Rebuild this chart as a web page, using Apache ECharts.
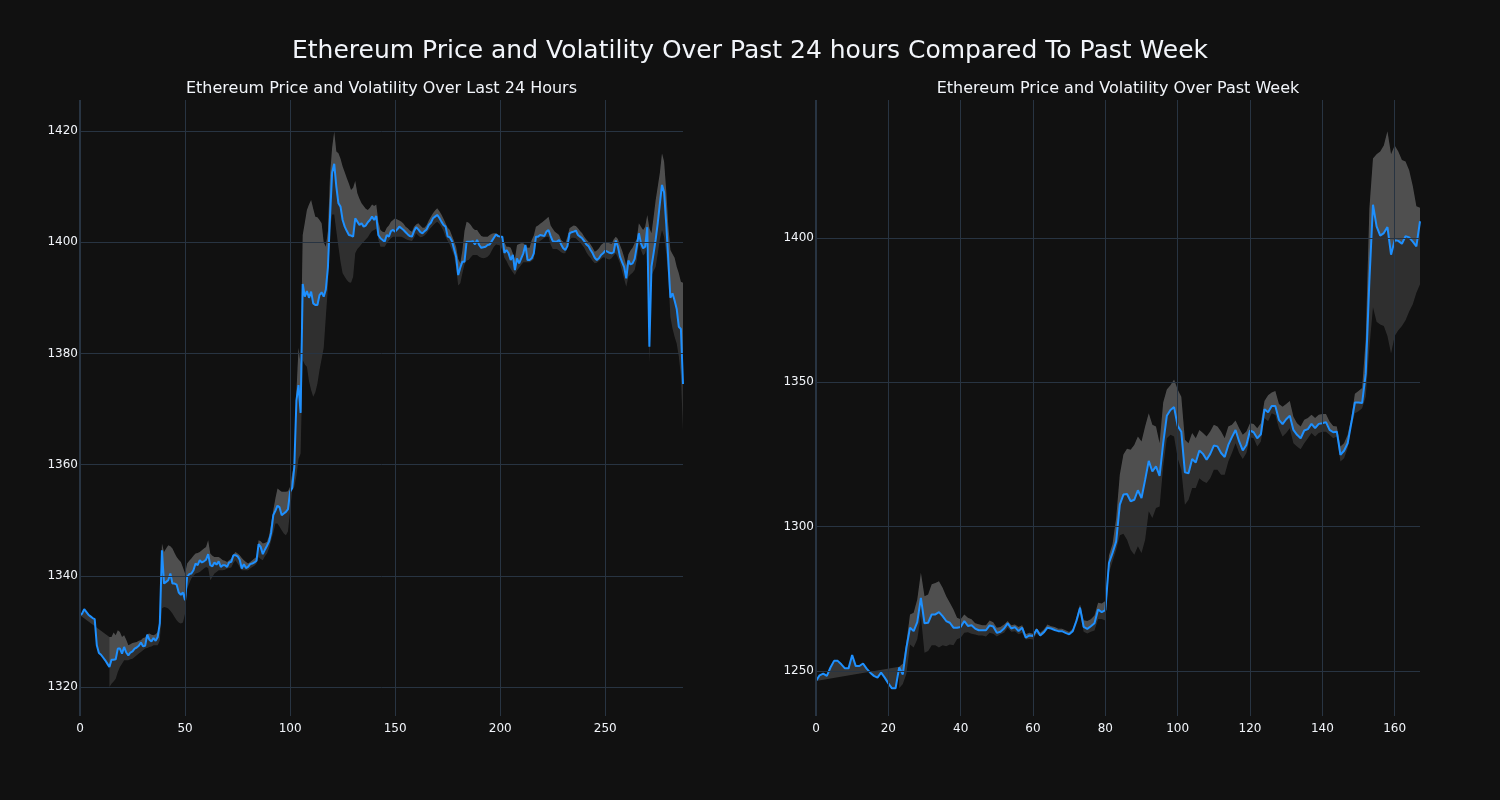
<!DOCTYPE html>
<html>
<head>
<meta charset="utf-8">
<script src="https://cdn.jsdelivr.net/npm/echarts@6/dist/echarts.min.js"></script>
<style>
html,body{margin:0;padding:0;background:#111111;}
#chart{width:1500px;height:800px;}
</style>
</head>
<body>
<div id="chart"></div>
<script>
// ---------------- DATA ----------------
const mainTitle = 'Ethereum Price and Volatility Over Past 24 hours Compared To Past Week';
const leftTitle = 'Ethereum Price and Volatility Over Last 24 Hours';
const rightTitle = 'Ethereum Price and Volatility Over Past Week';

// Last 24 hours (5-minute steps, index 0..287)
const dayPrice = [
1332.9,1333.2,1334.0,1333.5,1333.0,1332.7,1332.4,1332.2,1327.5,1326.1,
1325.8,1325.3,1324.8,1324.2,1323.6,1324.9,1324.9,1325.0,1326.9,1326.9,
1326.0,1327.2,1326.2,1325.7,1326.2,1326.4,1326.9,1327.1,1327.4,1328.0,
1327.3,1327.4,1329.4,1328.5,1328.2,1328.8,1328.3,1329.0,1331.5,1344.6,
1338.6,1338.9,1339.2,1340.4,1338.6,1338.6,1338.4,1337.0,1336.6,1337.0,
1335.6,1339.8,1340.3,1340.4,1341.0,1342.2,1341.9,1342.8,1342.4,1342.6,
1342.9,1343.9,1341.9,1341.7,1342.4,1342.0,1342.6,1341.6,1341.9,1341.9,
1341.6,1342.4,1342.5,1343.7,1343.7,1343.5,1342.9,1341.3,1342.1,1341.4,
1341.6,1342.1,1342.2,1342.4,1342.7,1345.7,1345.2,1343.9,1344.7,1345.4,
1346.2,1347.8,1350.9,1351.7,1352.6,1352.3,1350.9,1351.2,1351.5,1352.0,
1355.1,1355.8,1359.6,1371.5,1374.3,1369.3,1392.5,1390.2,1391.2,1390.0,
1391.1,1389.0,1388.7,1388.7,1390.5,1391.0,1390.2,1391.5,1395.5,1404.6,
1412.5,1414.1,1410.0,1407.0,1406.4,1404.0,1402.8,1402.0,1401.3,1401.2,
1401.0,1404.3,1403.7,1403.1,1403.4,1402.8,1403.0,1403.6,1404.0,1404.6,
1404.0,1404.7,1401.3,1400.7,1400.4,1400.1,1401.3,1401.0,1402.0,1402.2,
1401.9,1402.3,1402.8,1402.5,1402.2,1401.8,1401.4,1401.1,1401.0,1402.0,
1402.7,1402.3,1401.8,1401.6,1402.0,1402.3,1403.1,1403.5,1404.3,1404.6,
1404.9,1404.4,1403.7,1403.1,1402.8,1401.0,1400.9,1400.2,1398.8,1397.4,
1394.1,1395.4,1396.5,1396.5,1400.1,1400.1,1400.1,1400.2,1399.6,1400.4,
1399.5,1399.0,1399.1,1399.2,1399.5,1399.6,1400.2,1400.8,1401.4,1401.1,
1401.0,1401.0,1398.1,1398.6,1398.0,1396.8,1397.7,1395.0,1397.1,1396.2,
1397.1,1398.0,1399.5,1396.8,1396.8,1397.1,1398.0,1401.0,1401.0,1401.3,
1401.2,1401.1,1401.9,1402.2,1401.1,1400.2,1400.1,1400.1,1400.4,1399.6,
1398.9,1398.6,1399.3,1401.6,1401.8,1401.9,1402.1,1401.3,1401.0,1400.7,
1400.2,1399.6,1399.3,1398.6,1398.0,1397.2,1396.8,1397.1,1397.7,1398.0,
1398.5,1398.3,1398.1,1398.0,1398.2,1400.3,1399.2,1397.4,1396.4,1395.5,
1393.5,1396.7,1396.0,1396.2,1397.0,1399.2,1401.6,1399.8,1398.9,1399.2,
1402.7,1381.2,1395.6,1398.0,1400.5,1403.5,1407.0,1410.3,1409.0,1403.4,
1396.8,1390.0,1390.8,1389.5,1388.0,1384.8,1384.4,1374.5
];
const dayUpper = [
null,null,null,null,null,null,null,null,null,null,null,null,null,null,
1329.0,1329.0,1329.8,1329.3,1330.2,1329.9,
1329.0,1329.3,1328.5,1327.5,1327.7,1327.9,1328.0,1328.1,1328.3,1328.4,
1328.8,1328.9,1329.5,1329.6,1329.4,1329.3,1329.5,1329.9,1331.7,1345.8,
1344.3,1344.9,1345.5,1345.3,1344.9,1344.1,1343.4,1342.9,1342.5,1341.5,
1340.4,1342.2,1342.7,1343.1,1343.6,1344.0,1344.1,1344.3,1344.6,1344.9,
1345.2,1346.4,1344.0,1343.6,1343.4,1343.4,1343.4,1343.1,1342.8,1342.7,
1342.5,1342.8,1343.1,1343.8,1344.3,1344.0,1343.7,1343.2,1342.8,1342.5,
1342.2,1342.5,1342.8,1343.1,1343.4,1346.4,1346.2,1345.8,1345.9,1346.1,
1347.2,1349.4,1351.8,1353.9,1355.7,1355.4,1355.1,1355.1,1355.1,1355.2,
1356.0,1358.4,1360.0,1373.0,1381.0,1378.0,1401.3,1403.5,1405.8,1406.8,
1407.6,1406.0,1404.6,1404.5,1404.0,1403.4,1400.0,1399.2,1402.0,1412.0,
1417.0,1419.9,1416.3,1416.0,1415.0,1413.6,1412.6,1411.5,1410.5,1409.4,
1409.8,1411.0,1408.8,1407.8,1407.0,1406.5,1406.0,1405.8,1406.2,1406.8,
1406.5,1406.8,1403.7,1402.2,1401.9,1401.8,1402.6,1403.0,1403.7,1404.0,
1404.3,1404.1,1403.9,1403.7,1403.3,1402.8,1402.5,1402.1,1401.9,1402.8,
1403.2,1403.4,1403.0,1402.6,1402.6,1403.1,1403.9,1404.6,1405.2,1405.7,
1406.1,1405.6,1405.0,1404.2,1403.4,1402.6,1402.2,1401.2,1400.2,1399.2,
1397.0,1396.2,1398.5,1402.0,1403.7,1403.5,1403.1,1402.5,1402.2,1402.2,
1401.6,1401.1,1401.0,1401.0,1401.0,1401.3,1401.5,1401.6,1401.6,1401.4,
1401.0,1400.4,1400.0,1399.2,1399.2,1399.0,1398.0,1397.0,1399.5,1399.7,
1399.8,1399.8,1399.4,1399.0,1399.0,1400.4,1401.2,1402.8,1403.0,1403.3,
1403.6,1403.9,1404.2,1404.6,1403.0,1402.4,1401.9,1401.6,1401.3,1400.4,
1400.1,1399.8,1401.0,1402.5,1402.8,1403.0,1402.9,1402.5,1402.0,1401.6,
1401.0,1400.5,1400.1,1399.6,1399.0,1398.3,1398.5,1398.9,1399.5,1399.8,
1400.1,1400.0,1399.8,1399.7,1400.5,1401.0,1400.6,1399.5,1398.5,1397.3,
1395.8,1397.8,1398.5,1399.0,1399.8,1400.6,1403.4,1402.8,1402.2,1402.8,
1404.9,1402.5,1401.6,1404.5,1407.6,1410.0,1412.5,1416.0,1414.5,1409.4,
1403.0,1398.6,1397.9,1397.2,1395.6,1394.4,1392.9,1392.7
];
const dayLower = [
null,null,null,null,null,null,null,null,null,null,null,null,null,null,
1320.0,1320.6,1321.0,1321.5,1322.7,1323.6,
1324.2,1324.8,1324.8,1324.8,1325.0,1325.1,1325.4,1325.7,1326.0,1326.3,
1326.6,1326.9,1327.0,1327.2,1327.3,1327.5,1327.5,1327.5,1328.4,1334.1,
1334.4,1334.3,1334.1,1333.7,1333.2,1332.6,1332.0,1331.6,1331.4,1331.6,
1333.2,1337.7,1338.6,1339.5,1340.0,1340.4,1340.5,1340.7,1341.0,1341.3,
1341.6,1341.4,1339.2,1339.8,1340.4,1340.7,1341.0,1341.0,1341.0,1341.1,
1341.3,1341.4,1341.5,1342.3,1342.8,1342.2,1341.6,1341.0,1341.0,1341.0,
1341.0,1341.3,1341.6,1341.8,1342.2,1343.4,1343.0,1342.8,1343.5,1344.0,
1345.0,1346.4,1347.8,1349.4,1349.4,1348.8,1348.2,1347.6,1347.3,1348.0,
1351.8,1355.4,1356.0,1358.0,1361.0,1362.0,1378.8,1378.0,1377.6,1375.0,
1373.4,1372.2,1373.0,1374.6,1377.0,1379.0,1381.0,1386.6,1392.0,1402.2,
1405.0,1405.0,1402.0,1399.2,1396.5,1394.4,1393.8,1393.2,1392.8,1392.7,
1393.8,1398.0,1398.8,1399.2,1399.7,1400.1,1400.5,1400.9,1401.5,1402.0,
1402.2,1402.4,1400.5,1399.2,1399.2,1399.2,1399.8,1400.3,1400.7,1401.0,
1401.0,1401.0,1401.0,1401.0,1400.8,1400.6,1400.4,1400.3,1400.2,1400.8,
1401.6,1401.2,1400.9,1401.0,1401.2,1401.6,1402.2,1402.6,1403.0,1403.4,
1403.7,1403.3,1402.8,1402.0,1401.0,1400.2,1399.6,1398.6,1397.6,1395.5,
1392.2,1392.6,1394.4,1396.0,1396.7,1396.8,1397.3,1397.7,1397.7,1397.7,
1397.4,1397.2,1397.1,1397.2,1397.4,1397.8,1398.5,1399.2,1399.6,1399.5,
1399.4,1398.6,1397.2,1396.6,1395.8,1395.2,1394.6,1394.1,1394.9,1395.4,
1395.9,1396.4,1396.4,1396.4,1396.4,1396.6,1397.0,1399.8,1400.0,1400.2,
1400.5,1400.8,1401.0,1401.0,1399.6,1398.8,1398.8,1398.8,1398.5,1398.2,
1398.0,1398.0,1399.5,1400.4,1400.8,1400.8,1400.7,1400.3,1400.0,1399.5,
1399.0,1398.2,1397.6,1397.2,1396.6,1396.2,1396.3,1396.6,1397.0,1397.3,
1397.2,1397.0,1396.9,1397.1,1397.6,1398.0,1397.2,1396.2,1394.8,1393.4,
1392.0,1393.8,1394.2,1394.5,1395.0,1396.8,1399.8,1398.6,1397.6,1398.0,
1399.5,1378.2,1394.0,1394.8,1395.6,1398.0,1400.5,1402.2,1401.0,1398.0,
1393.8,1386.6,1384.5,1383.0,1381.8,1379.5,1376.0,1366.0
];

// Past week (hourly steps, index 0..167)
const weekPrice = [
1246.5,1248.5,1249.1,1248.3,1251.2,1253.5,1253.5,1252.3,1250.9,1250.9,
1255.5,1251.7,1251.7,1252.6,1250.8,1249.4,1248.3,1247.7,1249.4,1247.7,
1245.7,1244.0,1244.0,1251.2,1248.8,1258.1,1265.0,1263.8,1266.9,1275.3,
1266.5,1266.7,1269.6,1269.6,1270.4,1269.0,1267.3,1266.7,1265.0,1265.0,
1265.2,1267.3,1265.6,1265.8,1264.7,1264.1,1264.1,1264.1,1265.8,1265.4,
1263.2,1263.6,1264.7,1266.5,1264.7,1265.2,1263.8,1265.0,1261.5,1262.3,
1262.1,1264.4,1262.3,1263.4,1265.0,1264.7,1264.2,1263.8,1263.8,1263.2,
1262.7,1263.8,1267.3,1271.9,1265.3,1264.6,1265.5,1266.5,1271.3,1270.4,
1271.1,1287.4,1290.9,1294.9,1307.6,1311.1,1311.3,1308.8,1309.3,1312.6,
1309.9,1316.2,1322.8,1319.1,1320.9,1317.6,1328.9,1338.4,1340.4,1341.4,
1334.9,1332.9,1318.8,1318.5,1323.4,1322.2,1326.4,1325.2,1323.2,1325.2,
1328.1,1327.8,1325.5,1324.1,1328.3,1331.0,1333.5,1329.5,1326.4,1328.3,
1333.3,1332.7,1330.6,1332.0,1340.7,1339.6,1341.8,1341.8,1337.0,1335.5,
1337.2,1338.4,1333.5,1331.8,1330.6,1333.3,1333.8,1335.6,1334.1,1335.6,
1335.8,1336.2,1333.5,1332.7,1332.9,1324.9,1326.3,1328.9,1335.8,1343.0,
1343.0,1342.8,1353.0,1385.0,1411.5,1404.0,1400.8,1401.7,1403.8,1394.2,
1399.2,1399.0,1398.0,1400.6,1400.2,1398.7,1397.1,1405.8
];
const weekUpper = [
null,null,null,null,null,null,null,null,null,null,
null,null,null,null,null,null,null,null,null,null,
null,null,null,
1251.5,1252.5,1260.0,1269.6,1270.2,1274.8,1284.0,
1275.9,1276.5,1280.0,1280.5,1281.1,1278.8,1275.9,1273.6,1271.3,1268.4,
1267.9,1269.6,1268.4,1267.9,1266.5,1266.2,1265.8,1265.8,1267.5,1266.9,
1265.0,1265.2,1266.1,1267.3,1265.8,1266.1,1265.2,1265.8,1262.7,1263.2,
1262.9,1264.9,1263.2,1264.4,1266.1,1265.5,1265.2,1264.6,1264.6,1264.1,
1263.5,1264.6,1268.4,1273.0,1267.6,1267.3,1267.9,1269.2,1273.6,1273.4,
1274.2,1290.0,1294.0,1303.0,1318.0,1325.0,1327.0,1326.6,1328.3,1331.2,
1329.5,1334.7,1339.3,1335.3,1334.7,1328.9,1343.0,1347.5,1349.0,1351.0,
1347.5,1345.0,1330.1,1328.9,1332.4,1330.6,1333.5,1332.4,1331.2,1333.0,
1335.3,1334.7,1333.0,1330.6,1334.7,1335.3,1336.8,1334.1,1331.8,1333.0,
1335.8,1335.6,1334.1,1335.8,1343.5,1345.5,1346.5,1347.0,1342.5,1341.5,
1342.5,1343.5,1338.1,1335.8,1334.7,1337.0,1337.6,1338.8,1337.6,1338.8,
1339.0,1339.0,1336.4,1334.9,1334.7,1327.8,1328.9,1331.8,1337.6,1346.0,
1347.0,1348.0,1365.0,1410.0,1427.5,1429.0,1430.0,1432.0,1437.0,1429.0,
1432.0,1430.0,1427.0,1426.5,1423.5,1418.0,1411.0,1410.5
];
const weekLower = [
null,null,null,null,null,null,null,null,null,null,
null,null,null,null,null,null,null,null,null,null,
null,null,null,
1244.0,1245.5,1249.0,1259.2,1258.1,1261.0,1269.0,
1256.3,1256.9,1258.9,1258.9,1258.1,1258.9,1258.6,1259.2,1258.9,1261.0,
1261.5,1263.2,1263.4,1262.9,1262.6,1262.3,1262.3,1261.9,1263.2,1262.9,
1261.9,1262.7,1263.2,1265.0,1263.6,1263.8,1262.7,1263.2,1260.9,1261.1,
1260.9,1262.9,1261.9,1262.7,1265.0,1264.9,1264.4,1264.3,1264.3,1263.7,
1263.1,1264.0,1266.5,1269.9,1263.6,1263.0,1263.6,1264.0,1268.0,1268.0,
1267.5,1284.0,1288.0,1292.0,1297.0,1297.5,1295.5,1292.0,1290.3,1293.2,
1290.9,1295.5,1305.3,1303.0,1306.5,1307.0,1320.9,1330.6,1331.8,1331.2,
1323.7,1319.7,1307.6,1309.3,1313.4,1313.4,1316.8,1315.7,1315.1,1316.8,
1319.7,1319.7,1318.0,1318.0,1322.6,1325.5,1328.9,1325.5,1323.4,1325.5,
1331.0,1330.6,1327.8,1329.5,1337.6,1336.5,1339.3,1338.7,1334.1,1331.2,
1332.4,1334.1,1328.9,1327.8,1326.8,1328.9,1330.6,1332.4,1331.2,1332.4,
1332.9,1332.9,1331.8,1330.6,1331.2,1322.6,1323.7,1327.2,1334.7,1339.3,
1340.0,1341.0,1345.0,1362.0,1376.0,1371.0,1370.0,1369.5,1366.0,1360.0,
1366.0,1368.0,1369.5,1371.5,1374.5,1377.0,1381.0,1384.0
];

// Tick values
const dayXTicks = [0, 50, 100, 150, 200, 250];
const dayYTicks = [1320, 1340, 1360, 1380, 1400, 1420];
const weekXTicks = [0, 20, 40, 60, 80, 100, 120, 140, 160];
const weekYTicks = [1250, 1300, 1350, 1400];

// ---------------- STYLE ----------------
const BG = '#111111';
const GRID = '#283442';
const TXT = '#f2f5fa';
const LINE = '#1e90ff';
const FONT = 'DejaVu Sans';

const chart = echarts.init(document.getElementById('chart'), null, {renderer: 'canvas'});

function makeLabel(ticks) {
  return function (v) {
    for (const t of ticks) if (Math.abs(v - t) < 1e-6) return String(t);
    return '';
  };
}

function gridSeries(idx, xTicks, yTicks) {
  const lines = [];
  yTicks.forEach(v => lines.push({yAxis: v, lineStyle: {color: GRID, width: 1, type: 'solid'}}));
  xTicks.forEach(v => lines.push({xAxis: v, lineStyle: {color: GRID, width: v === 0 ? 2 : 1, type: 'solid'}}));
  return {
    type: 'line', xAxisIndex: idx, yAxisIndex: idx, data: [], z: 0, silent: true,
    markLine: {silent: true, symbol: ['none', 'none'], label: {show: false}, animation: false, data: lines}
  };
}

function bandSeries(idx, price, upper, lower, yMin) {
  return {
    type: 'custom', xAxisIndex: idx, yAxisIndex: idx, z: 1, silent: true,
    data: [[0, yMin]],
    renderItem: function (params, api) {
      const n = price.length;
      let start = 0;
      while (start < n && upper[start] == null) start++;
      const up = [], lo = [], pr = [];
      for (let i = 0; i < n; i++) pr.push(api.coord([i, price[i]]));
      for (let i = start; i < n; i++) {
        up.push(api.coord([i, upper[i]]));
        lo.push(api.coord([i, lower[i]]));
      }
      const bandPoly = up.concat(lo.slice().reverse());
      const pricePoly = pr.concat(up.slice().reverse());
      return {
        type: 'group',
        children: [
          {type: 'polygon', shape: {points: bandPoly}, style: {fill: 'rgba(255,255,255,0.13)'}},
          {type: 'polygon', shape: {points: pricePoly}, style: {fill: 'rgba(255,255,255,0.155)'}}
        ]
      };
    }
  };
}

function lineSeries(idx, price) {
  return {
    type: 'line', xAxisIndex: idx, yAxisIndex: idx, z: 3, silent: true,
    data: price.map((v, i) => [i, v]),
    showSymbol: false, symbol: 'none',
    lineStyle: {color: LINE, width: 2}
  };
}

const axisLabelBase = {color: TXT, fontFamily: FONT, fontSize: 12};

const option = {
  backgroundColor: BG,
  animation: false,
  graphic: [
    {type: 'text', x: 750, y: 51, style: {text: mainTitle, fill: TXT, font: '25px "DejaVu Sans"', textAlign: 'center', textVerticalAlign: 'middle'}},
    {type: 'text', x: 381.5, y: 89, style: {text: leftTitle, fill: TXT, font: '16px "DejaVu Sans"', textAlign: 'center', textVerticalAlign: 'middle'}},
    {type: 'text', x: 1118, y: 89, style: {text: rightTitle, fill: TXT, font: '16px "DejaVu Sans"', textAlign: 'center', textVerticalAlign: 'middle'}}
  ],
  grid: [
    {left: 80, top: 100, width: 603, height: 616},
    {left: 816, top: 100, width: 604, height: 616}
  ],
  xAxis: [
    {type: 'value', gridIndex: 0, min: 0, max: dayPrice.length - 1, splitNumber: 5,
     axisLine: {show: false}, axisTick: {show: false}, splitLine: {show: false},
     axisLabel: Object.assign({}, axisLabelBase, {margin: 7, formatter: makeLabel(dayXTicks)})},
    {type: 'value', gridIndex: 1, min: 0, max: weekPrice.length - 1, splitNumber: 8,
     axisLine: {show: false}, axisTick: {show: false}, splitLine: {show: false},
     axisLabel: Object.assign({}, axisLabelBase, {margin: 7, formatter: makeLabel(weekXTicks)})}
  ],
  yAxis: [
    {type: 'value', gridIndex: 0, min: 1314.78, max: 1425.58, splitNumber: 5,
     axisLine: {show: false}, axisTick: {show: false}, splitLine: {show: false},
     axisLabel: Object.assign({}, axisLabelBase, {margin: 2, formatter: makeLabel(dayYTicks)})},
    {type: 'value', gridIndex: 1, min: 1234.4, max: 1447.8, splitNumber: 5,
     axisLine: {show: false}, axisTick: {show: false}, splitLine: {show: false},
     axisLabel: Object.assign({}, axisLabelBase, {margin: 2, formatter: makeLabel(weekYTicks)})}
  ],
  series: [
    gridSeries(0, dayXTicks, dayYTicks),
    gridSeries(1, weekXTicks, weekYTicks),
    bandSeries(0, dayPrice, dayUpper, dayLower, 1314.78),
    bandSeries(1, weekPrice, weekUpper, weekLower, 1234.4),
    lineSeries(0, dayPrice),
    lineSeries(1, weekPrice)
  ]
};
chart.setOption(option);
</script>
</body>
</html>
